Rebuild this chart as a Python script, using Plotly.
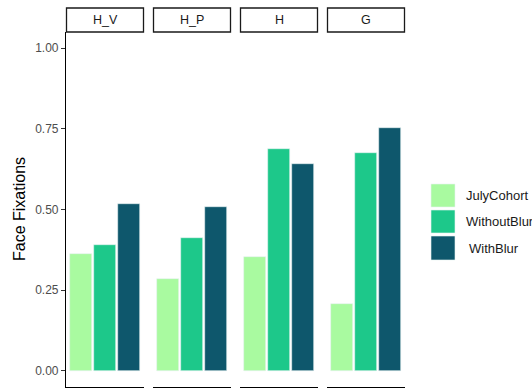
import plotly.graph_objects as go
from plotly.subplots import make_subplots

# Face fixation proportions per condition and group
conditions = ["H_V", "H_P", "H", "G"]
groups = ["JulyCohort", "WithoutBlur", "WithBlur"]
july_cohort = [0.363, 0.286, 0.352, 0.207]
without_blur = [0.391, 0.411, 0.687, 0.675]
with_blur = [0.518, 0.508, 0.642, 0.754]
group_colors = ["#A9FAA0", "#1DC88A", "#0E576C"]
y_ticks = [0.0, 0.25, 0.5, 0.75, 1.0]
y_tick_labels = ["0.00", "0.25", "0.50", "0.75", "1.00"]

W, H = 532, 389
panel_px = [(66, 144), (153, 231), (240, 318), (327, 405)]
panel_top, panel_bottom = 32, 387
strip_top = 8


def px_x(v):
    return v / W


def px_y(v):
    return 1 - v / H


fig = make_subplots(rows=1, cols=4, shared_yaxes=True, horizontal_spacing=0.0)

series = [july_cohort, without_blur, with_blur]
for c, cond in enumerate(conditions):
    vals = [s[c] for s in series]
    fig.add_trace(
        go.Bar(
            x=groups,
            y=vals,
            width=0.9,
            marker=dict(color=group_colors, line=dict(color="#e8f4f2", width=0.6)),
            showlegend=False,
            hoverinfo="x+y",
        ),
        row=1,
        col=c + 1,
    )

for i, (x0, x1) in enumerate(panel_px):
    xa = "xaxis" if i == 0 else f"xaxis{i + 1}"
    ya = "yaxis" if i == 0 else f"yaxis{i + 1}"
    fig.layout[xa].update(
        domain=[px_x(x0), px_x(x1)],
        type="category",
        categoryorder="array",
        categoryarray=groups,
        range=[-0.6, 2.6],
        showline=True,
        linecolor="black",
        linewidth=1.1,
        showticklabels=False,
        ticks="",
        showgrid=False,
        zeroline=False,
    )
    fig.layout[ya].update(
        domain=[px_y(panel_bottom), px_y(panel_top)],
        range=[-0.05, 1.05],
        showgrid=False,
        zeroline=False,
    )
    if i == 0:
        fig.layout[ya].update(
            showline=True,
            linecolor="black",
            linewidth=1.1,
            ticks="outside",
            ticklen=4,
            tickwidth=1,
            tickcolor="#333333",
            tickvals=y_ticks,
            ticktext=y_tick_labels,
            tickfont=dict(family="Liberation Sans, Arial", size=12, color="#4D4D4D"),
        )
    else:
        fig.layout[ya].update(showline=False, showticklabels=False, ticks="")

    # Facet strip
    fig.add_shape(
        type="rect",
        xref="paper",
        yref="paper",
        x0=px_x(x0 + 0.5),
        x1=px_x(x1 - 0.5),
        y0=px_y(panel_top),
        y1=px_y(strip_top),
        line=dict(color="#1A1A1A", width=1.3),
        fillcolor="white",
    )
    fig.add_annotation(
        text=conditions[i],
        xref="paper",
        yref="paper",
        x=px_x((x0 + x1) / 2),
        y=px_y((strip_top + panel_top) / 2),
        showarrow=False,
        font=dict(family="Liberation Sans, Arial", size=12.5, color="#1A1A1A"),
        xanchor="center",
        yanchor="middle",
    )

# Y axis title
fig.add_annotation(
    text="Face Fixations",
    xref="paper",
    yref="paper",
    x=px_x(19),
    y=px_y(209),
    textangle=-90,
    showarrow=False,
    font=dict(family="Liberation Sans, Arial", size=16, color="black"),
    xanchor="center",
    yanchor="middle",
)

# Legend keys and labels
key_rows = [(184, 207), (210, 233), (236, 260)]
label_offsets = [0, 0, 3]
for g, (k0, k1), off, col in zip(groups, key_rows, label_offsets, group_colors):
    fig.add_shape(
        type="rect",
        xref="paper",
        yref="paper",
        x0=px_x(431),
        x1=px_x(455),
        y0=px_y(k1),
        y1=px_y(k0),
        line=dict(color="#e8f4f2", width=0.6),
        fillcolor=col,
    )
    fig.add_annotation(
        text=g,
        xref="paper",
        yref="paper",
        x=px_x(464 + off),
        y=px_y((k0 + k1) / 2),
        showarrow=False,
        font=dict(family="Liberation Sans, Arial", size=13, color="#1A1A1A"),
        xanchor="left",
        yanchor="middle",
    )

fig.update_layout(
    width=W,
    height=H,
    margin=dict(l=0, r=0, t=0, b=0),
    paper_bgcolor="white",
    plot_bgcolor="white",
    bargap=0,
    showlegend=False,
)

fig.write_html("out.html")
